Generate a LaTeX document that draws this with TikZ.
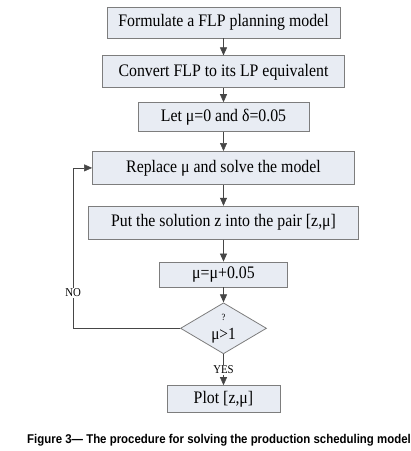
\documentclass[tikz,border=0pt]{standalone}
\usepackage{fontspec}
\setmainfont{Liberation Serif}[FakeStretch=0.9]
\newfontfamily\capfont{Liberation Sans}[FakeStretch=0.9]
\usepackage{tikz}
\usetikzlibrary{positioning,shapes.geometric,arrows.meta}
\definecolor{myfill}{RGB}{232,236,243}
\definecolor{myedge}{RGB}{125,125,125}
\definecolor{myline}{RGB}{70,70,70}

\begin{document}
\begin{tikzpicture}[x=1pt, y=-1pt,
  block/.style={rectangle, draw=myedge, fill=myfill, line width=0.8pt, inner sep=2pt, font=\fontsize{17.6}{19}\selectfont},
  decision/.style={diamond, draw=myedge, fill=myfill, line width=0.8pt, inner sep=0pt, aspect=1.7, align=center,
    minimum width=86pt, minimum height=51pt, font=\fontsize{17}{19}\selectfont},
  line/.style={draw=myline, line width=0.6pt, -{Triangle[length=8pt,width=7pt]}},
  tag/.style={fill=white, inner sep=1pt, font=\fontsize{12}{13}\selectfont}]

\useasboundingbox (0,0) rectangle (411,451);

\node[block, minimum width=233pt, minimum height=31pt] (model) at (223.5,22.5) {Formulate a FLP planning model};
\node[block, minimum width=242pt, minimum height=32pt, below=17pt of model] (convert) {Convert FLP to its LP equivalent};
\node[block, minimum width=171pt, minimum height=29pt, below=14pt of convert] (init) {Let μ=0 and δ=0.05};
\node[block, minimum width=262pt, minimum height=33pt, below=19pt of init] (solve) {Replace μ and solve the model};
\node[block, minimum width=270pt, minimum height=33pt, below=21pt of solve] (pair) {Put the solution z into the pair [z,μ]};
\node[block, minimum width=128pt, minimum height=25pt, below=22pt of pair] (incr) {μ=μ+0.05};
\node[decision, below=15pt of incr] (test) {{\fontsize{9.5}{9}\selectfont ?}\\ μ>1};
\node[block, minimum width=113pt, minimum height=27pt, below=31pt of test] (plot) {Plot [z,μ]};

\node[font=\capfont\bfseries\fontsize{12.7}{14}\selectfont, anchor=base] (caption) at (219,443)
  {Figure 3— The procedure for solving the production scheduling model};

\draw[line] (model.south) -- (convert.north);
\draw[line] (convert.south) -- (init.north);
\draw[line] (init.south) -- (solve.north);
\draw[line] (solve.south) -- (pair.north);
\draw[line] (pair.south) -- (incr.north);
\draw[line] (incr.south) -- (test.north);
\draw[line] (test.south) -- node[tag] {YES} (plot.north);
\draw[line] (test.west) -- ++(-107,0) coordinate (back) |- node[tag, pos=0.11] {NO} (solve.west);
\end{tikzpicture}
\end{document}
